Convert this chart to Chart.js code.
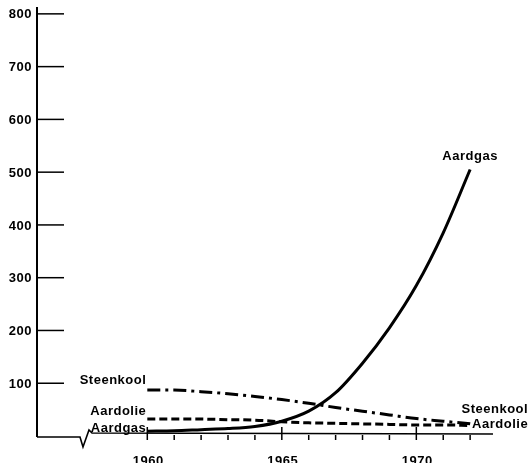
<!DOCTYPE html>
<html>
<head>
<meta charset="utf-8">
<script src="https://cdn.jsdelivr.net/npm/chart.js@4/dist/chart.umd.min.js"></script>
<style>
  html, body { margin: 0; padding: 0; background: #fff; }
  #wrap { width: 530px; height: 463px; }
</style>
</head>
<body>
<div id="wrap"><canvas id="energyChart" width="530" height="463"></canvas></div>
<script>
// data
const years = [1960, 1961, 1962, 1963, 1964, 1965, 1966, 1967, 1968, 1969, 1970, 1971, 1972];
const aardgas = [9, 10, 12, 14, 18, 28, 47, 82, 138, 205, 285, 385, 505];
const aardolie = [32, 32, 32, 31, 30, 27, 25, 24, 23, 22, 21, 21, 20];
const steenkool = [87, 87, 84, 80, 75, 69, 62, 54, 47, 40, 33, 28, 23];
const yTicks = [100, 200, 300, 400, 500, 600, 700, 800];
const xLabels = [1960, 1965, 1970];

const FONT = "bold 13px 'Liberation Sans', Arial, sans-serif";

function pts(values) {
  return years.map((y, i) => ({ x: y, y: values[i] }));
}

// axis with break, tick marks, tick labels and series names
const decorations = {
  id: "decorations",
  afterDraw(chart) {
    const ctx = chart.ctx;
    const xs = chart.scales.x;
    const ys = chart.scales.y;
    const left = chart.chartArea.left;
    const bottom = ys.getPixelForValue(0);
    ctx.save();
    ctx.strokeStyle = "#000";
    ctx.lineCap = "butt";

    // vertical axis
    ctx.lineWidth = 2;
    ctx.beginPath();
    ctx.moveTo(left, chart.chartArea.top);
    ctx.lineTo(left, bottom + 1);
    ctx.stroke();

    // horizontal axis with break
    ctx.lineWidth = 1.6;
    ctx.beginPath();
    ctx.moveTo(left, bottom + 1);
    ctx.lineTo(left + 43, bottom + 1);
    ctx.lineTo(left + 46, bottom + 11);
    ctx.lineTo(left + 52, bottom - 6);
    ctx.lineTo(left + 55, bottom - 3);
    ctx.lineTo(chart.chartArea.right, bottom - 2);
    ctx.stroke();

    // y tick marks inside the plot, labels to the left
    ctx.fillStyle = "#000";
    ctx.font = FONT;
    ctx.letterSpacing = "0.5px";
    ctx.textAlign = "right";
    ctx.textBaseline = "middle";
    ctx.lineWidth = 1.5;
    yTicks.forEach(v => {
      const py = ys.getPixelForValue(v);
      ctx.beginPath();
      ctx.moveTo(left, py);
      ctx.lineTo(left + 27, py);
      ctx.stroke();
      ctx.fillText(String(v), left - 5, py + 1);
    });

    // x ticks: small below, major ones cross the axis
    years.forEach(yr => {
      const px = xs.getPixelForValue(yr);
      const major = xLabels.includes(yr);
      ctx.beginPath();
      ctx.moveTo(px, bottom - (major ? 9 : 1));
      ctx.lineTo(px, bottom + 4);
      ctx.stroke();
    });
    ctx.textAlign = "center";
    ctx.textBaseline = "top";
    xLabels.forEach(yr => {
      ctx.fillText(String(yr), xs.getPixelForValue(yr) + 1, bottom + 19);
    });

    // series names
    ctx.textBaseline = "middle";
    ctx.textAlign = "right";
    const lx = xs.getPixelForValue(1960) - 1;
    ctx.fillText("Steenkool", lx, ys.getPixelForValue(105));
    ctx.fillText("Aardolie", lx, ys.getPixelForValue(46));
    ctx.fillText("Aardgas", lx, ys.getPixelForValue(14));
    const rx = xs.getPixelForValue(1972) + 58;
    ctx.fillText("Steenkool", rx, ys.getPixelForValue(51));
    ctx.fillText("Aardolie", rx, ys.getPixelForValue(21));
    ctx.textAlign = "center";
    ctx.fillText("Aardgas", xs.getPixelForValue(1972), ys.getPixelForValue(529));
    ctx.restore();
  }
};

new Chart("energyChart", {
  type: "line",
  data: {
    datasets: [
      {
        label: "Aardgas",
        data: pts(aardgas),
        borderColor: "#000",
        borderWidth: 3,
        borderDash: [],
      },
      {
        label: "Aardolie",
        data: pts(aardolie),
        borderColor: "#000",
        borderWidth: 3,
        borderDash: [8, 4],
      },
      {
        label: "Steenkool",
        data: pts(steenkool),
        borderColor: "#000",
        borderWidth: 3,
        borderDash: [13, 5, 3, 5],
      },
    ],
  },
  options: {
    responsive: false,
    animation: false,
    layout: { padding: { top: 7, right: 37, left: 0, bottom: 0 } },
    elements: {
      point: { radius: 0 },
      line: { cubicInterpolationMode: "monotone", fill: false },
    },
    plugins: {
      legend: { display: false },
      tooltip: { enabled: false },
      title: { display: false },
    },
    scales: {
      x: {
        type: "linear",
        min: 1955.9,
        max: 1972.85,
        afterBuildTicks: s => { s.ticks = xLabels.map(v => ({ value: v })); },
        afterFit: s => { s.height = 27; },
        border: { display: false },
        grid: { display: false, drawTicks: false },
        ticks: { display: false },
      },
      y: {
        min: 0,
        max: 813,
        afterBuildTicks: s => { s.ticks = yTicks.map(v => ({ value: v })); },
        afterFit: s => { s.width = 37; },
        border: { display: false },
        grid: { display: false, drawTicks: false },
        ticks: { display: false },
      },
    },
  },
  plugins: [decorations],
});
</script>
</body>
</html>
